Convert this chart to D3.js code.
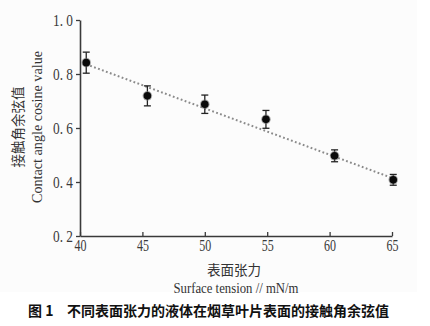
<!DOCTYPE html>
<html>
<head>
<meta charset="utf-8">
<script src="https://cdn.jsdelivr.net/npm/d3@7"></script>
<style>
  html, body { margin: 0; padding: 0; background: #ffffff; }
  svg { display: block; }
</style>
</head>
<body>
<svg id="chart" width="430" height="326"></svg>
<script>
// Surface tension (mN/m) and contact angle cosine, with error bars
const tension = [40.5, 45.4, 50.0, 54.9, 60.4, 65.1];
const cosValue = [0.842, 0.719, 0.688, 0.632, 0.497, 0.408];
const errValue = [0.039, 0.037, 0.034, 0.033, 0.022, 0.020];
// Linear trend endpoints
const trendX = [40.5, 65.0];
const trendY = [0.836, 0.415];
const xTicks = [40, 45, 50, 55, 60, 65];
const yTicks = [0.2, 0.4, 0.6, 0.8, 1.0];

const svg = d3.select("#chart");
const serif = "'Liberation Serif', 'DejaVu Serif', serif";
const cjk = "'Noto Sans CJK SC', sans-serif";
const axisColor = "#3a3a3a";

// faint page tint behind the figure
svg.append("rect").attr("x", 0).attr("y", 0).attr("width", 417).attr("height", 292)
  .attr("fill", "#fcfcfc");

const x = d3.scaleLinear().domain([40, 65]).range([80, 392]);
const y = d3.scaleLinear().domain([0.2, 1.0]).range([236, 20]);

// condense text horizontally by a factor
function condense(sel, k) {
  sel.each(function () {
    const w = this.getComputedTextLength();
    d3.select(this).attr("textLength", w * k).attr("lengthAdjust", "spacingAndGlyphs");
  });
}
// fit text to a given width
function fit(sel, w) {
  sel.attr("textLength", w).attr("lengthAdjust", "spacingAndGlyphs");
}

// y axis
const yAxis = svg.append("g").attr("transform", "translate(80,0)")
  .call(d3.axisLeft(y).tickValues(yTicks).tickSizeInner(4).tickSizeOuter(0).tickPadding(3)
    .tickFormat(d => d3.format(".1f")(d).replace(".", ". ")));
yAxis.select(".domain").attr("stroke", axisColor).attr("stroke-width", 1.6);
yAxis.selectAll(".tick line").attr("stroke", axisColor).attr("stroke-width", 1.3);
yAxis.selectAll(".tick text").attr("fill", "#3a3a3a").style("font-family", serif).style("font-size", "16px")
  .call(fit, 20);

// x axis
const xAxis = svg.append("g").attr("transform", "translate(0,236)")
  .call(d3.axisBottom(x).tickValues(xTicks).tickSizeInner(-4).tickSizeOuter(0).tickPadding(4)
    .tickFormat(d3.format("d")));
xAxis.select(".domain").attr("stroke", axisColor).attr("stroke-width", 1.6);
xAxis.selectAll(".tick line").attr("stroke", axisColor).attr("stroke-width", 1.3);
xAxis.selectAll(".tick text").attr("fill", "#3a3a3a").style("font-family", serif).style("font-size", "16px")
  .call(fit, 12);

// dotted trend line
svg.append("path")
  .datum(trendX.map((d, i) => [d, trendY[i]]))
  .attr("d", d3.line().x(d => x(d[0])).y(d => y(d[1])))
  .attr("fill", "none").attr("stroke", "#8a8a8a").attr("stroke-width", 2)
  .attr("stroke-dasharray", "1.8,2.4");

// error bars and markers
const pts = tension.map((t, i) => ({ t, v: cosValue[i], e: errValue[i] }));
const g = svg.append("g");
const bars = g.selectAll("g.pt").data(pts).join("g").attr("class", "pt");
bars.append("line")
  .attr("x1", d => x(d.t)).attr("x2", d => x(d.t))
  .attr("y1", d => y(d.v + d.e)).attr("y2", d => y(d.v - d.e))
  .attr("stroke", "#222").attr("stroke-width", 1.3);
bars.append("line")
  .attr("x1", d => x(d.t) - 3.5).attr("x2", d => x(d.t) + 3.5)
  .attr("y1", d => y(d.v + d.e)).attr("y2", d => y(d.v + d.e))
  .attr("stroke", "#222").attr("stroke-width", 1.3);
bars.append("line")
  .attr("x1", d => x(d.t) - 3.5).attr("x2", d => x(d.t) + 3.5)
  .attr("y1", d => y(d.v - d.e)).attr("y2", d => y(d.v - d.e))
  .attr("stroke", "#222").attr("stroke-width", 1.3);
bars.append("circle")
  .attr("cx", d => x(d.t)).attr("cy", d => y(d.v)).attr("r", 4.8)
  .attr("fill", "#777").attr("opacity", 0.6);
bars.append("circle")
  .attr("cx", d => x(d.t)).attr("cy", d => y(d.v)).attr("r", 3.8)
  .attr("fill", "#0a0a0a");

// y axis titles
svg.append("text")
  .attr("transform", "translate(23,127) rotate(-90)")
  .attr("text-anchor", "middle").attr("fill", "#333")
  .style("font-family", cjk).style("font-size", "13.5px")
  .text("接触角余弦值");
svg.append("text")
  .attr("transform", "translate(42,127) rotate(-90)")
  .attr("text-anchor", "middle").attr("fill", "#333")
  .style("font-family", serif).style("font-size", "15px")
  .text("Contact angle cosine value")
  .call(fit, 152);

// x axis titles
svg.append("text")
  .attr("x", 234).attr("y", 275)
  .attr("text-anchor", "middle").attr("fill", "#333")
  .style("font-family", cjk).style("font-size", "13.5px")
  .text("表面张力");
svg.append("text")
  .attr("x", 236).attr("y", 293)
  .attr("text-anchor", "middle").attr("fill", "#333")
  .style("font-family", serif).style("font-size", "15px")
  .text("Surface tension // mN/m")
  .call(fit, 125);

// figure caption
svg.append("text")
  .attr("x", 28).attr("y", 316).attr("fill", "#111")
  .style("font-family", cjk).style("font-size", "14px").style("font-weight", "bold")
  .text("图 1");
svg.append("text")
  .attr("x", 67).attr("y", 316).attr("fill", "#111")
  .style("font-family", cjk).style("font-size", "14px").style("font-weight", "bold")
  .text("不同表面张力的液体在烟草叶片表面的接触角余弦值");
</script>
</body>
</html>
